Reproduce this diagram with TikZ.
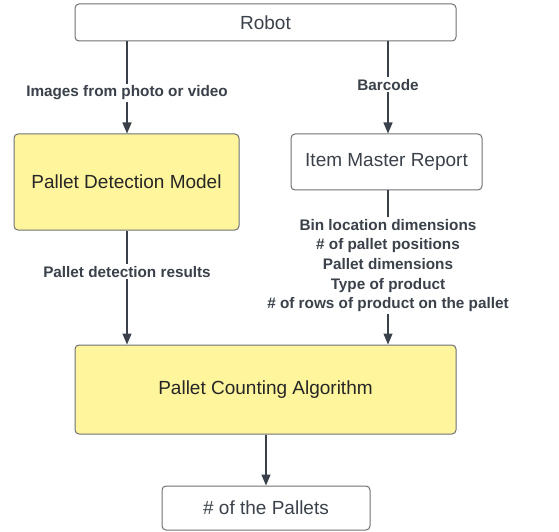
\documentclass[tikz,border=0pt]{standalone}
\usepackage{fontspec}
\setmainfont{Liberation Sans}
\usetikzlibrary{arrows.meta}
\definecolor{txt}{HTML}{3A414A}
\definecolor{bord}{HTML}{6E7075}
\definecolor{yell}{HTML}{FFF59D}
\tikzset{
  box/.style={draw=bord, line width=1pt, rounded corners=4pt, text=txt,
    font=\fontsize{19}{22}\selectfont, inner sep=0pt},
  ybox/.style={box, fill=yell, text=black!85},
  conn/.style={draw=txt, line width=1.3pt, -{Triangle[length=11pt,width=9pt]}},
  lbl/.style={fill=white, text=txt, font=\bfseries\fontsize{15.3}{19.7}\selectfont,
    inner sep=2pt, align=center}
}
\begin{document}
\begin{tikzpicture}[x=1pt,y=1pt]
\useasboundingbox (0,0) rectangle (559,531);
\node[box, minimum width=381pt, minimum height=37pt] (robot) at (265.5,508.5) {Robot};
\node[ybox, minimum width=225pt, minimum height=96pt] (pdm) at (126.5,349) {Pallet Detection Model};
\node[box, minimum width=191pt, minimum height=56pt] (imr) at (386.5,369) {Item Master Report};
\node[ybox, minimum width=381pt, minimum height=89pt] (pca) at (265.5,141.5) {Pallet Counting Algorithm};
\node[box, minimum width=208pt, minimum height=44pt] (out) at (266,23) {\# of the Pallets};
\coordinate (la) at (127,0);
\coordinate (ra) at (388,0);
\draw[conn] (robot.south -| la) -- node[lbl, pos=0.56] {Images from photo or video} (pdm.north -| la);
\draw[conn] (robot.south -| ra) -- node[lbl, pos=0.47] {Barcode} (imr.north -| ra);
\draw[conn] (pdm.south -| la) -- node[lbl, pos=0.36] {Pallet detection results} (pca.north -| la);
\draw[conn] (imr.south -| ra) -- node[lbl, pos=0.487] {Bin location dimensions\\\# of pallet positions\\Pallet dimensions\\Type of product\\\# of rows of product on the pallet} (pca.north -| ra);
\draw[conn] (pca.south -| out.north) -- (out.north);
\end{tikzpicture}
\end{document}
